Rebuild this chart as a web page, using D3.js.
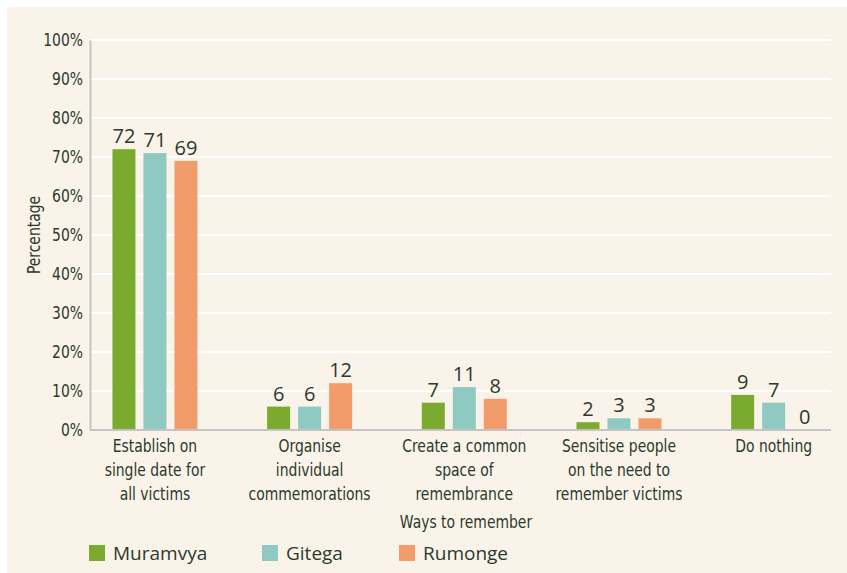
<!DOCTYPE html>
<html><head><meta charset="utf-8">
<script src="https://cdn.jsdelivr.net/npm/d3@7"></script>
<style>
body{margin:0;background:#fff;}
svg{display:block;}
</style></head>
<body>
<svg id="chart" width="847" height="573"></svg>
<script>
const categories = [
  ["Establish on","single date for","all victims"],
  ["Organise","individual","commemorations"],
  ["Create a common","space of","remembrance"],
  ["Sensitise people","on the need to","remember victims"],
  ["Do nothing"]
];
const seriesNames = ["Muramvya","Gitega","Rumonge"];
const muramvya = [72, 6, 7, 2, 9];
const gitega   = [71, 6, 11, 3, 7];
const rumonge  = [69, 12, 8, 3, 0];
const yTicks = [0,10,20,30,40,50,60,70,80,90,100];
const colors = ["#7aab2e","#8ecac1","#f39c6b"];
const xTitle = "Ways to remember";
const yTitle = "Percentage";

const svg = d3.select("#chart");
const textCol = "#2b3a2c";
const condensed = "'DejaVu Sans Condensed','Open Sans',sans-serif";
const regular = "'Open Sans','Noto Sans',sans-serif";
const sx = 0.86;

svg.append("rect").attr("x",7).attr("y",7).attr("width",840).attr("height",566).attr("fill","#faf3ea");

const plotL = 90, plotR = 831, plotT = 40, plotB = 430;
const y = d3.scaleLinear().domain([0,100]).range([plotB, plotT]);
const x0 = d3.scaleBand().domain(d3.range(categories.length)).range([77.6, 851]).paddingInner(0).paddingOuter(0);
const x1 = d3.scaleBand().domain(d3.range(seriesNames.length)).range([-42.5, 42.5]).paddingInner(0.258).paddingOuter(0);

// gridlines
svg.append("g").selectAll("line").data(yTicks.filter(t=>t>0)).join("line")
  .attr("x1",plotL).attr("x2",plotR).attr("y1",d=>y(d)).attr("y2",d=>y(d))
  .attr("stroke","#ffffff").attr("stroke-width",2);

// y axis
const yAxis = d3.axisLeft(y).tickValues(yTicks).tickFormat(d=>d+"%").tickSize(0).tickPadding(0);
const gy = svg.append("g").attr("transform",`translate(${plotL},0)`).call(yAxis);
gy.select(".domain").attr("stroke","#c4c4c4").attr("stroke-width",2);
gy.selectAll(".tick").each(function(){
  const t = d3.select(this);
  t.select("text").attr("x",0).attr("transform",`translate(-7,0) scale(${sx},1)`);
});
gy.selectAll("text").attr("fill",textCol).style("font-family",condensed).style("font-size","18px");

// bars
const series = [muramvya, gitega, rumonge];
const groups = svg.append("g").selectAll("g").data(categories.map((c,i)=>i)).join("g")
  .attr("transform",i=>`translate(${x0(i)+x0.bandwidth()/2},0)`);
groups.selectAll("rect").data(i=>series.map((s,j)=>({j, v:s[i]}))).join("rect")
  .attr("x",d=>x1(d.j)).attr("width",x1.bandwidth())
  .attr("y",d=>y(d.v)).attr("height",d=>plotB-y(d.v))
  .attr("fill",d=>colors[d.j]);
groups.selectAll("text").data(i=>series.map((s,j)=>({j, v:s[i]}))).join("text")
  .attr("x",d=>x1(d.j)+x1.bandwidth()/2).attr("y",d=>y(d.v)-6)
  .attr("text-anchor","middle").attr("fill",textCol)
  .style("font-family",regular).style("font-size","20px")
  .text(d=>d.v);

// x axis baseline
svg.append("line").attr("x1",plotL).attr("x2",plotR).attr("y1",plotB).attr("y2",plotB)
  .attr("stroke","#c4c4c4").attr("stroke-width",2);

// category labels
const xl = svg.append("g").selectAll("text").data(categories.map((c,i)=>i)).join("text")
  .attr("text-anchor","middle").attr("fill",textCol)
  .style("font-family",condensed).style("font-size","18px")
  .attr("transform",i=>`translate(${x0(i)+x0.bandwidth()/2},452) scale(${sx},1)`);
xl.selectAll("tspan").data(i=>categories[i]).join("tspan")
  .attr("x",0).attr("y",(d,k)=>k*24).text(d=>d);

// x title
svg.append("text").attr("transform",`translate(466,528) scale(${sx},1)`).attr("text-anchor","middle").attr("fill",textCol)
  .style("font-family",condensed).style("font-size","18px").text(xTitle);

// y title
svg.append("text").attr("transform",`translate(40,${(plotT+plotB)/2}) rotate(-90) scale(${sx},1)`)
  .attr("text-anchor","middle").attr("fill",textCol)
  .style("font-family",condensed).style("font-size","18px").text(yTitle);

// legend
const legX = [89, 262, 399];
const leg = svg.append("g").selectAll("g").data(seriesNames).join("g")
  .attr("transform",(d,i)=>`translate(${legX[i]},545)`);
leg.append("rect").attr("width",16).attr("height",16).attr("fill",(d,i)=>colors[i]);
leg.append("text").attr("x",24).attr("y",15).attr("fill",textCol)
  .style("font-family",regular).style("font-size","19px").text(d=>d);
</script>
</body></html>
